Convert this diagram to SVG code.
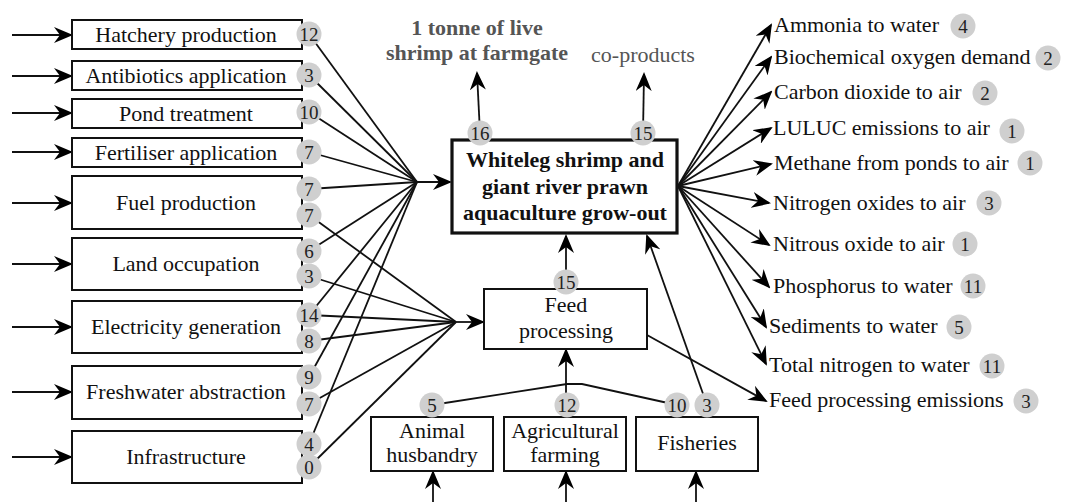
<svg xmlns="http://www.w3.org/2000/svg" width="1065" height="502" viewBox="0 0 1065 502" font-family="'Liberation Serif', 'Times New Roman', 'DejaVu Serif', serif">
<defs>
<marker id="ah" markerUnits="userSpaceOnUse" markerWidth="19" markerHeight="16" refX="17" refY="8" orient="auto" viewBox="0 0 19 16">
<path d="M0,0 L19,8 L0,16 L6,8 z" fill="#000"/>
</marker>
<style>
text{font-family:'Liberation Serif','Times New Roman','DejaVu Serif',serif;font-size:22px;fill:#111;text-anchor:middle}
.lt{text-anchor:start}
.b{font-weight:bold}
.g{fill:#555}
.box{fill:#fff;stroke:#111;stroke-width:2}
.main{fill:#fff;stroke:#111;stroke-width:3.2}
.bd{fill:#cfcfcf}
.bt{font-size:19px;fill:#222}
.c{fill:none;stroke:#111;stroke-width:1.8}
.a{fill:none;stroke:#111;stroke-width:1.8;marker-end:url(#ah)}
</style>
</defs>
<rect width="1065" height="502" fill="#fff"/>
<g id="connectors">
<line class="a" x1="12" y1="35" x2="71" y2="35"/>
<line class="a" x1="12" y1="76" x2="71" y2="76"/>
<line class="a" x1="12" y1="113" x2="71" y2="113"/>
<line class="a" x1="12" y1="152" x2="71" y2="152"/>
<line class="a" x1="12" y1="203" x2="71" y2="203"/>
<line class="a" x1="12" y1="264" x2="71" y2="264"/>
<line class="a" x1="12" y1="327" x2="71" y2="327"/>
<line class="a" x1="12" y1="392" x2="71" y2="392"/>
<line class="a" x1="12" y1="457" x2="71" y2="457"/>
<line class="c" x1="309" y1="34" x2="417" y2="182"/>
<line class="c" x1="309" y1="75" x2="417" y2="182"/>
<line class="c" x1="309" y1="112" x2="417" y2="182"/>
<line class="c" x1="309" y1="152" x2="417" y2="182"/>
<line class="c" x1="309" y1="189" x2="417" y2="182"/>
<line class="c" x1="309" y1="251" x2="417" y2="182"/>
<line class="c" x1="309" y1="315" x2="417" y2="182"/>
<line class="c" x1="309" y1="377" x2="417" y2="182"/>
<line class="c" x1="309" y1="444" x2="417" y2="182"/>
<line class="a" x1="417" y1="182" x2="450" y2="182"/>
<line class="c" x1="309" y1="215" x2="456" y2="322"/>
<line class="c" x1="309" y1="276" x2="456" y2="322"/>
<line class="c" x1="309" y1="315" x2="456" y2="322"/>
<line class="c" x1="309" y1="341" x2="456" y2="322"/>
<line class="c" x1="309" y1="404" x2="456" y2="322"/>
<line class="c" x1="309" y1="467" x2="456" y2="322"/>
<line class="a" x1="456" y1="322" x2="483" y2="322"/>
<line class="a" x1="480" y1="133" x2="477" y2="73"/>
<line class="a" x1="643" y1="133" x2="644" y2="74"/>
<line class="a" x1="678" y1="186" x2="771" y2="25"/>
<line class="a" x1="678" y1="186" x2="771" y2="57"/>
<line class="a" x1="678" y1="186" x2="771" y2="92"/>
<line class="a" x1="678" y1="186" x2="771" y2="128"/>
<line class="a" x1="678" y1="186" x2="771" y2="164"/>
<line class="a" x1="678" y1="186" x2="769" y2="203"/>
<line class="a" x1="678" y1="186" x2="769" y2="245"/>
<line class="a" x1="678" y1="186" x2="769" y2="287"/>
<line class="a" x1="678" y1="186" x2="766" y2="327"/>
<line class="a" x1="678" y1="186" x2="766" y2="364"/>
<line class="a" x1="647" y1="335" x2="766" y2="401"/>
<line class="a" x1="566" y1="282" x2="566" y2="236"/>
<line class="a" x1="707" y1="405" x2="647" y2="236"/>
<polyline class="c" points="432,405 567,384 582,384 677,405"/>
<line class="a" x1="566" y1="405" x2="566" y2="350"/>
<line class="a" x1="433" y1="502" x2="433" y2="472"/>
<line class="a" x1="566" y1="502" x2="566" y2="472"/>
<line class="a" x1="696" y1="502" x2="696" y2="472"/>
</g>
<g id="n-hatchery"><rect class="box" x="72" y="20" width="230" height="29"/><text x="186" y="42">Hatchery production</text><circle class="bd" cx="309" cy="34" r="12.5"/><text class="bt" x="309" y="40.5">12</text></g>
<g id="n-antibiotics"><rect class="box" x="72" y="61" width="230" height="29"/><text x="186" y="83">Antibiotics application</text><circle class="bd" cx="309" cy="75" r="12.5"/><text class="bt" x="309" y="81.5">3</text></g>
<g id="n-pond"><rect class="box" x="72" y="99" width="230" height="29"/><text x="186" y="121">Pond treatment</text><circle class="bd" cx="309" cy="112" r="12.5"/><text class="bt" x="309" y="118.5">10</text></g>
<g id="n-fertiliser"><rect class="box" x="72" y="138" width="230" height="29"/><text x="186" y="160">Fertiliser application</text><circle class="bd" cx="309" cy="152" r="12.5"/><text class="bt" x="309" y="158.5">7</text></g>
<g id="n-fuel"><rect class="box" x="72" y="176" width="230" height="53"/><text x="186" y="210">Fuel production</text><circle class="bd" cx="309" cy="189" r="12.5"/><text class="bt" x="309" y="195.5">7</text><circle class="bd" cx="309" cy="215" r="12.5"/><text class="bt" x="309" y="221.5">7</text></g>
<g id="n-land"><rect class="box" x="72" y="238" width="230" height="52"/><text x="186" y="271">Land occupation</text><circle class="bd" cx="309" cy="251" r="12.5"/><text class="bt" x="309" y="257.5">6</text><circle class="bd" cx="309" cy="276" r="12.5"/><text class="bt" x="309" y="282.5">3</text></g>
<g id="n-electricity"><rect class="box" x="72" y="301" width="230" height="52"/><text x="186" y="334">Electricity generation</text><circle class="bd" cx="309" cy="315" r="12.5"/><text class="bt" x="309" y="321.5">14</text><circle class="bd" cx="309" cy="341" r="12.5"/><text class="bt" x="309" y="347.5">8</text></g>
<g id="n-freshwater"><rect class="box" x="72" y="366" width="230" height="53"/><text x="186" y="399">Freshwater abstraction</text><circle class="bd" cx="309" cy="377" r="12.5"/><text class="bt" x="309" y="383.5">9</text><circle class="bd" cx="309" cy="404" r="12.5"/><text class="bt" x="309" y="410.5">7</text></g>
<g id="n-infrastructure"><rect class="box" x="72" y="431" width="230" height="52"/><text x="186" y="464">Infrastructure</text><circle class="bd" cx="309" cy="444" r="12.5"/><text class="bt" x="309" y="450.5">4</text><circle class="bd" cx="309" cy="467" r="12.5"/><text class="bt" x="309" y="473.5">0</text></g>
<g id="n-main"><rect class="main" x="452" y="140" width="225" height="93"/><text class="b" x="565" y="167">Whiteleg shrimp and</text><text class="b" x="565" y="194">giant river prawn</text><text class="b" x="565" y="220">aquaculture grow-out</text><circle class="bd" cx="480" cy="133" r="12.5"/><text class="bt" x="480" y="139.5">16</text><circle class="bd" cx="643" cy="133" r="12.5"/><text class="bt" x="643" y="139.5">15</text></g>
<g id="n-live-shrimp"><text class="b g" x="477" y="35">1 tonne of live</text><text class="b g" x="477" y="60">shrimp at farmgate</text></g>
<g id="n-coproducts"><text class="g" x="643" y="62">co-products</text></g>
<g id="n-feed"><rect class="box" x="484" y="289" width="163" height="60"/><text x="566" y="312">Feed</text><text x="566" y="338">processing</text><circle class="bd" cx="566" cy="282" r="12.5"/><text class="bt" x="566" y="288.5">15</text></g>
<g id="n-animal"><rect class="box" x="371" y="417" width="122" height="54"/><text x="432" y="438">Animal</text><text x="432" y="462">husbandry</text><circle class="bd" cx="432" cy="405" r="12.5"/><text class="bt" x="432" y="411.5">5</text></g>
<g id="n-agri"><rect class="box" x="504" y="417" width="122" height="54"/><text x="565" y="438">Agricultural</text><text x="565" y="462">farming</text><circle class="bd" cx="567" cy="405" r="12.5"/><text class="bt" x="567" y="411.5">12</text></g>
<g id="n-fisheries"><rect class="box" x="636" y="417" width="122" height="54"/><text x="697" y="450">Fisheries</text><circle class="bd" cx="677" cy="405" r="12.5"/><text class="bt" x="677" y="411.5">10</text><circle class="bd" cx="707" cy="405" r="12.5"/><text class="bt" x="707" y="411.5">3</text></g>
<g id="n-ammonia"><text class="lt" x="774" y="32">Ammonia to water</text><circle class="bd" cx="963" cy="26" r="12.5"/><text class="bt" x="963" y="32.5">4</text></g>
<g id="n-bod"><text class="lt" x="774" y="64">Biochemical oxygen demand</text><circle class="bd" cx="1048" cy="58" r="12.5"/><text class="bt" x="1048" y="64.5">2</text></g>
<g id="n-co2"><text class="lt" x="774" y="99">Carbon dioxide to air</text><circle class="bd" cx="985" cy="93" r="12.5"/><text class="bt" x="985" y="99.5">2</text></g>
<g id="n-luluc"><text class="lt" x="773" y="135">LULUC emissions to air</text><circle class="bd" cx="1012" cy="131" r="12.5"/><text class="bt" x="1012" y="137.5">1</text></g>
<g id="n-methane"><text class="lt" x="774" y="170">Methane from ponds to air</text><circle class="bd" cx="1030" cy="163" r="12.5"/><text class="bt" x="1030" y="169.5">1</text></g>
<g id="n-nox"><text class="lt" x="773" y="210">Nitrogen oxides to air</text><circle class="bd" cx="989" cy="203" r="12.5"/><text class="bt" x="989" y="209.5">3</text></g>
<g id="n-n2o"><text class="lt" x="773" y="251">Nitrous oxide to air</text><circle class="bd" cx="965" cy="244" r="12.5"/><text class="bt" x="965" y="250.5">1</text></g>
<g id="n-phosphorus"><text class="lt" x="773" y="293">Phosphorus to water</text><circle class="bd" cx="973" cy="286" r="12.5"/><text class="bt" x="973" y="292.5">11</text></g>
<g id="n-sediments"><text class="lt" x="769" y="333">Sediments to water</text><circle class="bd" cx="959" cy="327" r="12.5"/><text class="bt" x="959" y="333.5">5</text></g>
<g id="n-totaln"><text class="lt" x="769" y="372">Total nitrogen to water</text><circle class="bd" cx="992" cy="366" r="12.5"/><text class="bt" x="992" y="372.5">11</text></g>
<g id="n-feedem"><text class="lt" x="769" y="407">Feed processing emissions</text><circle class="bd" cx="1026" cy="401" r="12.5"/><text class="bt" x="1026" y="407.5">3</text></g>
</svg>
